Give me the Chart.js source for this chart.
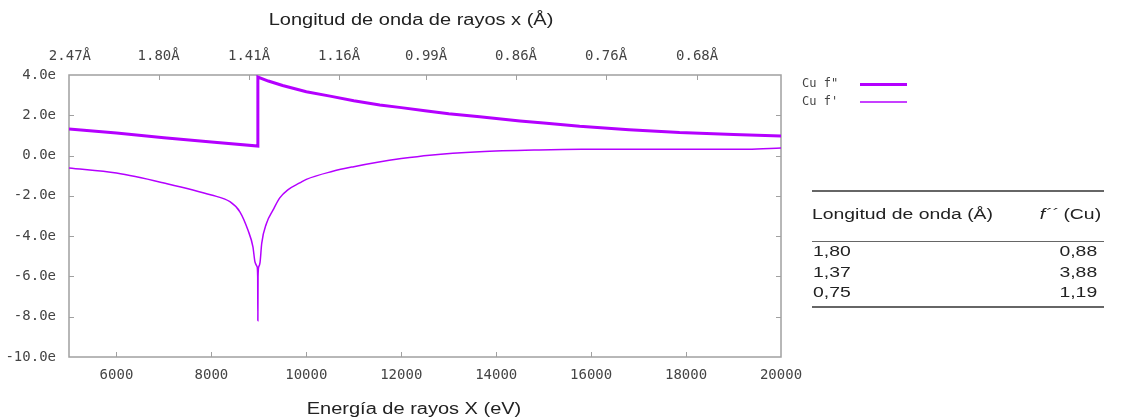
<!DOCTYPE html>
<html>
<head>
<meta charset="utf-8">
<script src="https://cdn.jsdelivr.net/npm/chart.js@4/dist/chart.umd.min.js"></script>
<style>
  body { margin: 0; background: #fff; }
  #wrap { position: relative; width: 1131px; height: 420px; overflow: hidden; }
  canvas { position: absolute; left: 0; top: 0; }
  .txt { position: absolute; font-family: "Liberation Sans", Arial, sans-serif; color: #222; white-space: nowrap; }
  .wide { display: inline-block; transform: scaleX(1.25); }
  .rule { position: absolute; left: 812px; width: 292px; background: #666; }
</style>
</head>
<body>
<div id="wrap">
  <canvas id="myChart" width="1131" height="420"></canvas>
  <div class="txt" style="left:411px; top:20px; font-size:16px; transform:translate(-50%,-50%) scaleX(1.25);">Longitud de onda de rayos x (Å)</div>
  <div class="txt" style="left:414px; top:409px; font-size:16px; transform:translate(-50%,-50%) scaleX(1.25);">Energía de rayos X (eV)</div>
  <div id="tabla"></div>
</div>
<script>
const ctx = document.getElementById("myChart")

const HC = 12398.4   // eV * Å

// ticks
const energyTicks = [6000, 8000, 10000, 12000, 14000, 16000, 18000, 20000]
const waveTicks = [2.47, 1.80, 1.41, 1.16, 0.99, 0.86, 0.76, 0.68]
const yTicks = [4, 2, 0, -2, -4, -6, -8, -10]

// Cu f''  (absorption edge at 8979 eV)
const fppEnergy = [5000, 6000, 7000, 8000, 8979, 8979, 9200, 9500, 10000, 10500, 11000, 11547, 12000, 12500, 13000, 13653, 14500, 15000, 15758, 16800, 17863, 19000, 20000]
const fppValue  = [1.32, 1.12, 0.88, 0.67, 0.47, 3.90, 3.70, 3.48, 3.17, 2.95, 2.72, 2.51, 2.38, 2.23, 2.08, 1.93, 1.72, 1.62, 1.45, 1.28, 1.14, 1.05, 0.97]

// Cu f'
const fpEnergy = [5000, 6000, 7000, 8000, 8390, 8600, 8770, 8875, 8920, 8960, 8975, 8979, 8983, 9000, 9025, 9060, 9160, 9300, 9440, 9610, 9860, 10000, 10558, 11000, 11500, 12000, 12600, 13650, 14900, 15800, 19300, 20000]
const fpValue  = [-0.62, -0.87, -1.36, -1.96, -2.29, -2.79, -3.70, -4.53, -5.30, -5.50, -6.00, -8.20, -6.00, -5.50, -5.30, -4.36, -3.37, -2.70, -2.10, -1.70, -1.36, -1.18, -0.78, -0.55, -0.33, -0.15, 0.02, 0.19, 0.28, 0.31, 0.32, 0.38]

// table
const tablaOnda = ['1,80', '1,37', '0,75']
const tablaFpp  = ['0,88', '3,88', '1,19']

const color = '#b400ff'
const tickFont = { family: 'DejaVu Sans Mono', size: 14 }

const pairs = (xs, ys) => xs.map((x, i) => ({ x: x, y: ys[i] }))

const marcos = {
  id: 'marcos',
  beforeDatasetsDraw(chart) {
    const { ctx, chartArea: a, scales } = chart
    ctx.save()
    ctx.strokeStyle = '#a0a0a0'
    ctx.lineWidth = 1.5
    ctx.strokeRect(a.left, a.top, a.right - a.left, a.bottom - a.top)
    ctx.lineWidth = 1
    ctx.beginPath()
    scales.x.ticks.forEach(t => {
      const p = Math.round(scales.x.getPixelForValue(t.value)) + 0.5
      if (p > a.left + 3 && p < a.right - 3) { ctx.moveTo(p, a.bottom); ctx.lineTo(p, a.bottom - 5) }
    })
    scales.x2.ticks.forEach(t => {
      const p = Math.round(scales.x2.getPixelForValue(t.value)) + 0.5
      if (p > a.left + 3 && p < a.right - 3) { ctx.moveTo(p, a.top); ctx.lineTo(p, a.top + 5) }
    })
    scales.y.ticks.forEach(t => {
      const p = Math.round(scales.y.getPixelForValue(t.value)) + 0.5
      if (p > a.top + 3 && p < a.bottom - 3) {
        ctx.moveTo(a.left, p); ctx.lineTo(a.left + 5, p)
        ctx.moveTo(a.right, p); ctx.lineTo(a.right - 5, p)
      }
    })
    ctx.stroke()
    ctx.restore()
  },
  afterDraw(chart) {
    const { ctx } = chart
    ctx.save()
    ctx.font = '12px "DejaVu Sans Mono"'
    ctx.fillStyle = '#444'
    ctx.textBaseline = 'middle'
    chart.data.datasets.forEach((ds, i) => {
      const y = 84 + i * 17.5
      ctx.fillText(ds.label, 802, y)
      ctx.strokeStyle = ds.borderColor
      ctx.lineWidth = ds.borderWidth
      ctx.beginPath()
      ctx.moveTo(860, y + 0.5)
      ctx.lineTo(907, y + 0.5)
      ctx.stroke()
    })
    ctx.restore()
  }
}

const myChart = new Chart(ctx, {
  type: 'line',
  data: {
    datasets: [
      { label: 'Cu f"', data: pairs(fppEnergy, fppValue), borderColor: color, borderWidth: 3, pointRadius: 0, tension: 0, fill: false },
      { label: "Cu f'", data: pairs(fpEnergy, fpValue), borderColor: color, borderWidth: 1.5, pointRadius: 0, cubicInterpolationMode: 'monotone', fill: false }
    ]
  },
  options: {
    responsive: false,
    animation: false,
    devicePixelRatio: 1,
    layout: { padding: { left: 0, right: 350, top: 0, bottom: 0 } },
    plugins: { legend: { display: false }, tooltip: { enabled: false } },
    scales: {
      x: {
        type: 'linear', position: 'bottom', min: 5000, max: 20000,
        afterBuildTicks: s => { s.ticks = energyTicks.map(v => ({ value: v })) },
        afterFit: s => { s.height = 63 },
        grid: { display: false, drawTicks: false }, border: { display: false },
        ticks: { autoSkip: false, maxRotation: 0, padding: 10, color: '#444', font: tickFont, callback: v => String(v) }
      },
      x2: {
        type: 'linear', position: 'top', min: 5000, max: 20000,
        afterBuildTicks: s => { s.ticks = waveTicks.map(w => ({ value: HC / w })) },
        afterFit: s => { s.height = 75 },
        grid: { display: false, drawTicks: false }, border: { display: false },
        ticks: { autoSkip: false, maxRotation: 0, padding: 10, color: '#444', font: tickFont, callback: (v, i) => waveTicks[i].toFixed(2) + 'Å' }
      },
      y: {
        min: -10, max: 4,
        afterBuildTicks: s => { s.ticks = yTicks.map(v => ({ value: v })) },
        afterFit: s => { s.width = 69 },
        grid: { display: false, drawTicks: false }, border: { display: false },
        ticks: { autoSkip: false, padding: 13, color: '#444', font: tickFont, callback: v => v.toFixed(1) + 'e' }
      }
    }
  },
  plugins: [marcos]
})

// tabla
const tabla = document.getElementById('tabla')
function add(html) { tabla.insertAdjacentHTML('beforeend', html) }
add('<div class="rule" style="top:190px;height:1.5px"></div>')
add('<div class="txt" style="left:812px;top:214px;font-size:15.5px;transform:translateY(-50%)"><span class="wide" style="transform-origin:left">Longitud de onda (Å)</span></div>')
add('<div class="txt" style="right:30px;top:214px;font-size:15.5px;transform:translateY(-50%)"><span class="wide" style="transform-origin:right"><i>f´´</i> (Cu)</span></div>')
add('<div class="rule" style="top:241px;height:1px"></div>')
tablaOnda.forEach((w, i) => {
  const y = 251 + i * 20.5
  add('<div class="txt" style="left:813px;top:' + y + 'px;font-size:15.5px;transform:translateY(-50%)"><span class="wide" style="transform-origin:left">' + w + '</span></div>')
  add('<div class="txt" style="right:34px;top:' + y + 'px;font-size:15.5px;transform:translateY(-50%)"><span class="wide" style="transform-origin:right">' + tablaFpp[i] + '</span></div>')
})
add('<div class="rule" style="top:306px;height:1.5px"></div>')
</script>
</body>
</html>
